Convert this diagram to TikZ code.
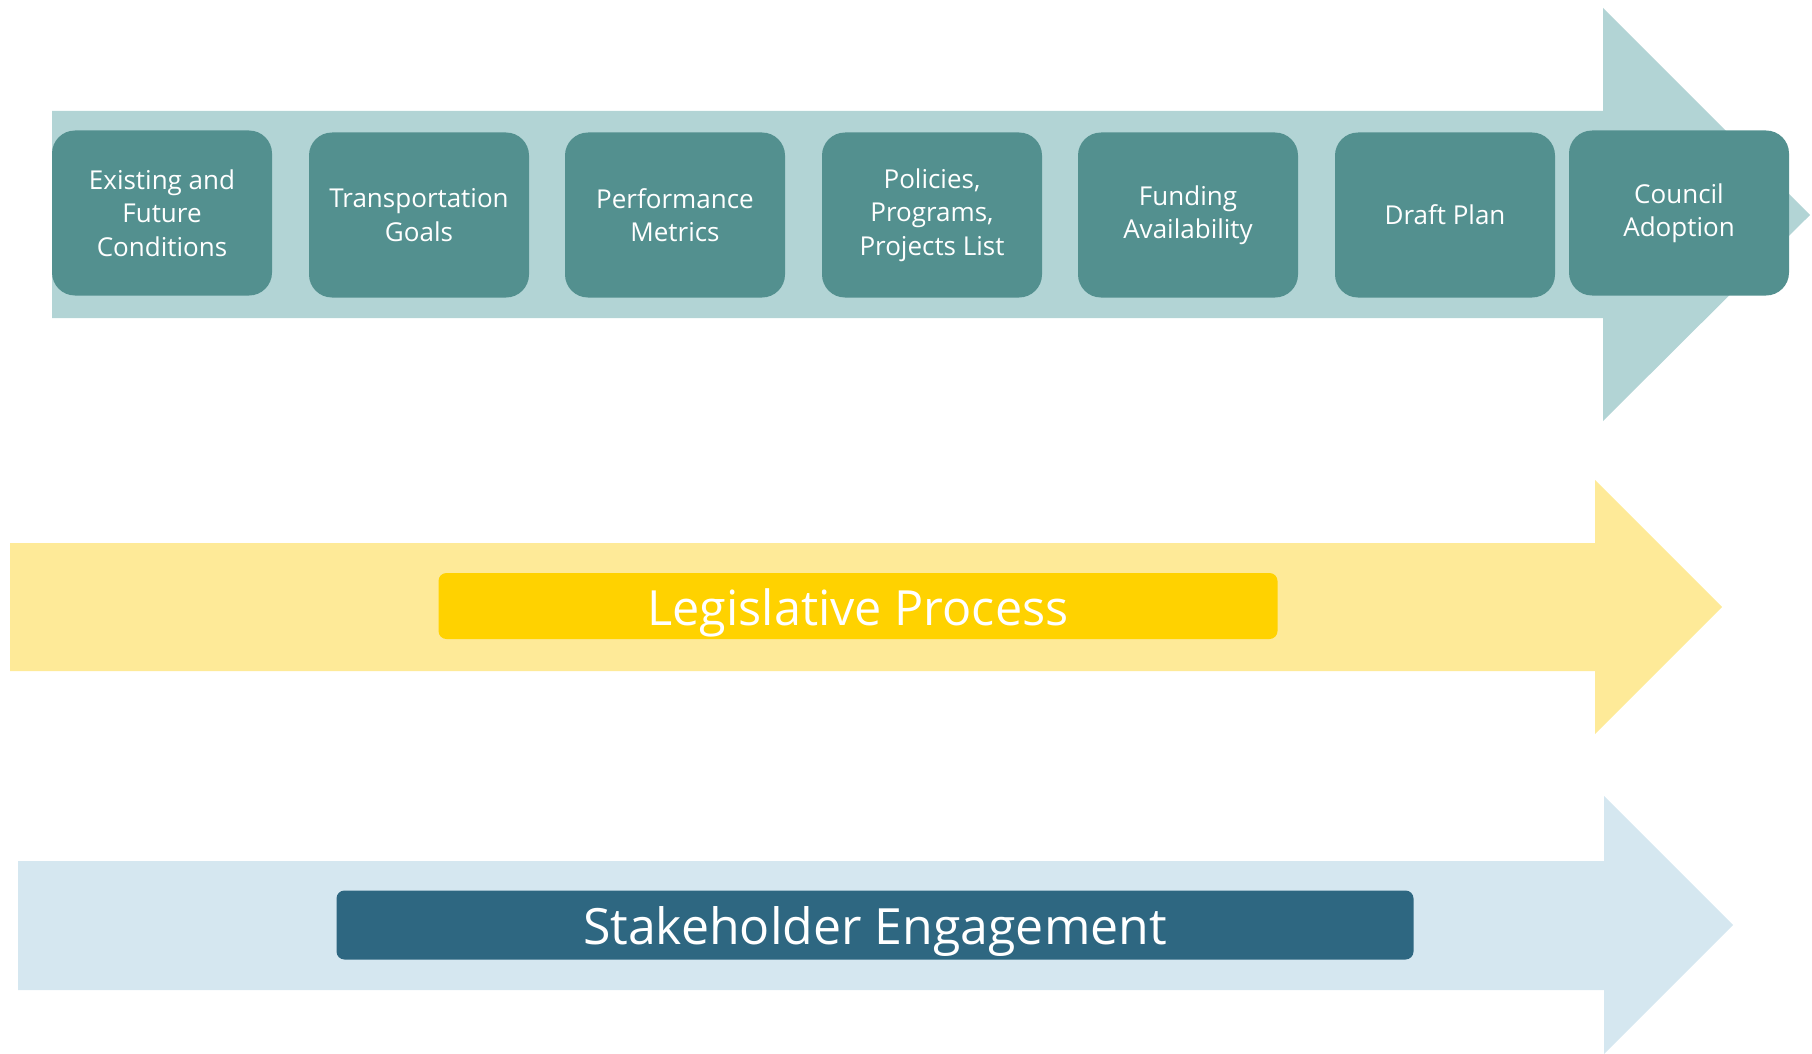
\documentclass[tikz,border=0pt]{standalone}
\usepackage{fontspec}
\setmainfont{Open Sans}
\usepackage{tikz}

\definecolor{stepteal}{HTML}{53908F}
\definecolor{flowteal}{HTML}{B2D4D5}
\definecolor{lawgold}{HTML}{FFD200}
\definecolor{lawyellow}{HTML}{FEEA98}
\definecolor{talkblue}{HTML}{2E6781}
\definecolor{talksky}{HTML}{D5E7F0}

\tikzset{
  stepbox/.style={fill=stepteal, rounded corners=23pt, minimum width=220pt,
    minimum height=165pt, inner sep=0pt, text=white, align=center,
    font=\fontsize{26}{33.5}\selectfont},
  bandlabel/.style={rounded corners=8pt, inner sep=0pt, text=white,
    text height=40pt, text depth=2pt}
}

\begin{document}
\begin{tikzpicture}[x=1pt,y=-1pt]
\useasboundingbox (0,0) rectangle (1812,1054);

% plan steps
\fill[flowteal] (52,111) -- (1603,111) -- (1603,8) -- (1810,215)
  -- (1603,421) -- (1603,318) -- (52,318) -- cycle;
\foreach \x/\y/\name/\txt in {162/213/cond/{Existing and\\Future\\Conditions},
    419/215/goals/{Transportation\\Goals},
    675/215/metrics/{Performance\\Metrics},
    932/215/lists/{Policies,\\Programs,\\Projects List},
    1188/215/funds/{Funding\\Availability},
    1445/215/draft/{Draft Plan},
    1679/213/adopt/{Council\\Adoption}}
    {\node[stepbox] (\name) at (\x,\y) {\txt};}

% legislative process
\fill[lawyellow] (10,543) -- (1595,543) -- (1595,480) -- (1722,607)
  -- (1595,734) -- (1595,671) -- (10,671) -- cycle;
\node[bandlabel, fill=lawgold, minimum width=839pt, minimum height=66pt,
  font=\fontsize{48.5}{54}\selectfont] (law) at (858,606) {Legislative Process};

% stakeholder engagement
\fill[talksky] (18,861) -- (1604,861) -- (1604,796) -- (1733,925)
  -- (1604,1054) -- (1604,990) -- (18,990) -- cycle;
\node[bandlabel, fill=talkblue, minimum width=1077pt, minimum height=69pt,
  font=\fontsize{50}{56}\selectfont] (talk) at (875,925) {Stakeholder Engagement};

\end{tikzpicture}
\end{document}
